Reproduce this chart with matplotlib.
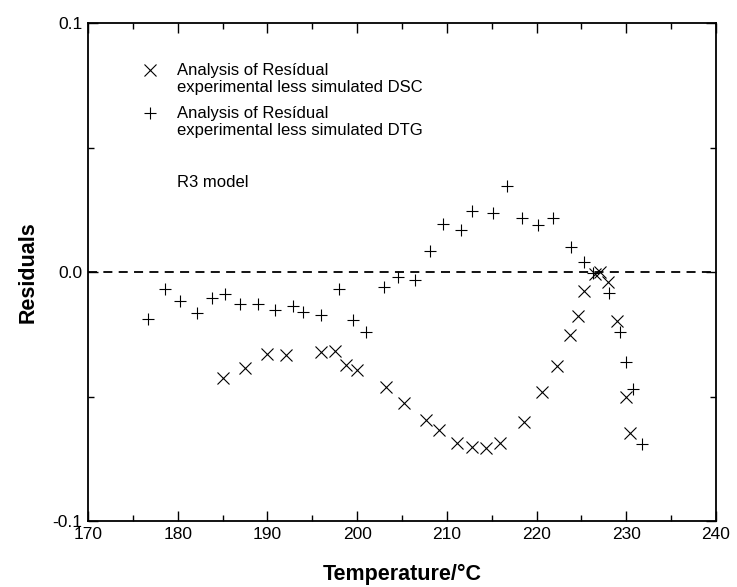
import matplotlib
matplotlib.use("Agg")
import matplotlib.pyplot as plt
from matplotlib.ticker import MultipleLocator, FixedLocator

plt.rcParams['font.family'] = ['Liberation Sans', 'DejaVu Sans']
plt.rcParams['axes.unicode_minus'] = False

# residuals, experimental less simulated DSC
dsc_t = [185.0, 187.5, 189.9, 192.1, 196.0, 197.5, 198.8, 200.0, 203.2, 205.2,
         207.7, 209.1, 211.1, 212.8, 214.4, 215.9, 218.6, 220.6, 222.3, 223.7,
         224.6, 225.3, 226.5, 227.1, 228.0, 229.0, 230.0, 230.4]
dsc_r = [-0.0425, -0.0386, -0.0329, -0.0335, -0.0323, -0.0318, -0.0375, -0.0394, -0.046, -0.0525,
         -0.0595, -0.0633, -0.0686, -0.0702, -0.0705, -0.0686, -0.0603, -0.0483, -0.0376, -0.0255,
         -0.0177, -0.0077, -0.001, 0.0, -0.0041, -0.0195, -0.0503, -0.0646]

# residuals, experimental less simulated DTG
dtg_t = [176.7, 178.6, 180.3, 182.1, 183.8, 185.3, 186.9, 189.0, 190.8, 192.8,
         194.0, 196.0, 198.0, 199.5, 201.0, 203.0, 204.5, 206.5, 208.1, 209.6,
         211.6, 212.8, 215.1, 216.7, 218.4, 220.2, 221.8, 223.8, 225.3, 226.3,
         228.1, 229.3, 230.0, 230.8, 231.7]
dtg_r = [-0.019, -0.0067, -0.0118, -0.0164, -0.0105, -0.009, -0.0127, -0.0127, -0.0153, -0.0135,
         -0.016, -0.0171, -0.007, -0.0191, -0.024, -0.006, -0.0021, -0.0033, 0.0086, 0.0194,
         0.0168, 0.0244, 0.0235, 0.0345, 0.0218, 0.0188, 0.0218, 0.0101, 0.0041, -0.0003,
         -0.0084, -0.024, -0.0361, -0.0468, -0.069]

dsc_label = ["Analysis of Resídual", "experimental less simulated DSC"]
dtg_label = ["Analysis of Resídual", "experimental less simulated DTG"]
model_name = "R3 model"

fig = plt.figure(figsize=(7.37, 5.87), dpi=100)
ax = fig.add_axes([88/737, 66/587, 628/737, 498/587])

ax.axhline(0.0, color='black', lw=1.3, ls=(0, (5, 3.5)), zorder=1)
ax.plot(dsc_t, dsc_r, ls='none', marker='x', ms=8.5, mew=0.8, color='black')
ax.plot(dtg_t, dtg_r, ls='none', marker='+', ms=8.5, mew=0.8, color='black')

ax.set_xlim(170, 240)
ax.set_ylim(-0.1, 0.1)
ax.xaxis.set_major_locator(MultipleLocator(10))
ax.xaxis.set_minor_locator(MultipleLocator(5))
ax.yaxis.set_major_locator(FixedLocator([-0.1, 0.0, 0.1]))
ax.yaxis.set_minor_locator(FixedLocator([-0.05, 0.05]))
ax.set_yticklabels(["-0.1", "0.0", "0.1"])
ax.tick_params(which='both', direction='in', top=True, right=True, width=1.0, labelsize=12.5, pad=4)
ax.tick_params(which='major', length=7)
ax.tick_params(which='minor', length=4)
for s in ax.spines.values():
    s.set_linewidth(1.3)

ax.set_xlabel("Temperature/°C", fontsize=15.5, fontweight='bold', labelpad=16)
ax.set_ylabel("Residuals", fontsize=15.5, fontweight='bold', labelpad=10)

# hand-placed key, one text per line (axes fraction)
tr = ax.transAxes
kx, tx = 0.0987, 0.142
ax.plot([kx], [0.905], transform=tr, marker='x', ms=8.5, mew=0.8, color='black', clip_on=False)
ax.plot([kx], [0.819], transform=tr, marker='+', ms=8.5, mew=0.8, color='black', clip_on=False)
for y, s in zip([0.905, 0.871], dsc_label):
    ax.text(tx, y, s, transform=tr, fontsize=12, va='center', ha='left')
for y, s in zip([0.819, 0.785], dtg_label):
    ax.text(tx, y, s, transform=tr, fontsize=12, va='center', ha='left')
ax.text(tx, 0.679, model_name, transform=tr, fontsize=12, va='center', ha='left')

fig.savefig("out.png", dpi=100)
